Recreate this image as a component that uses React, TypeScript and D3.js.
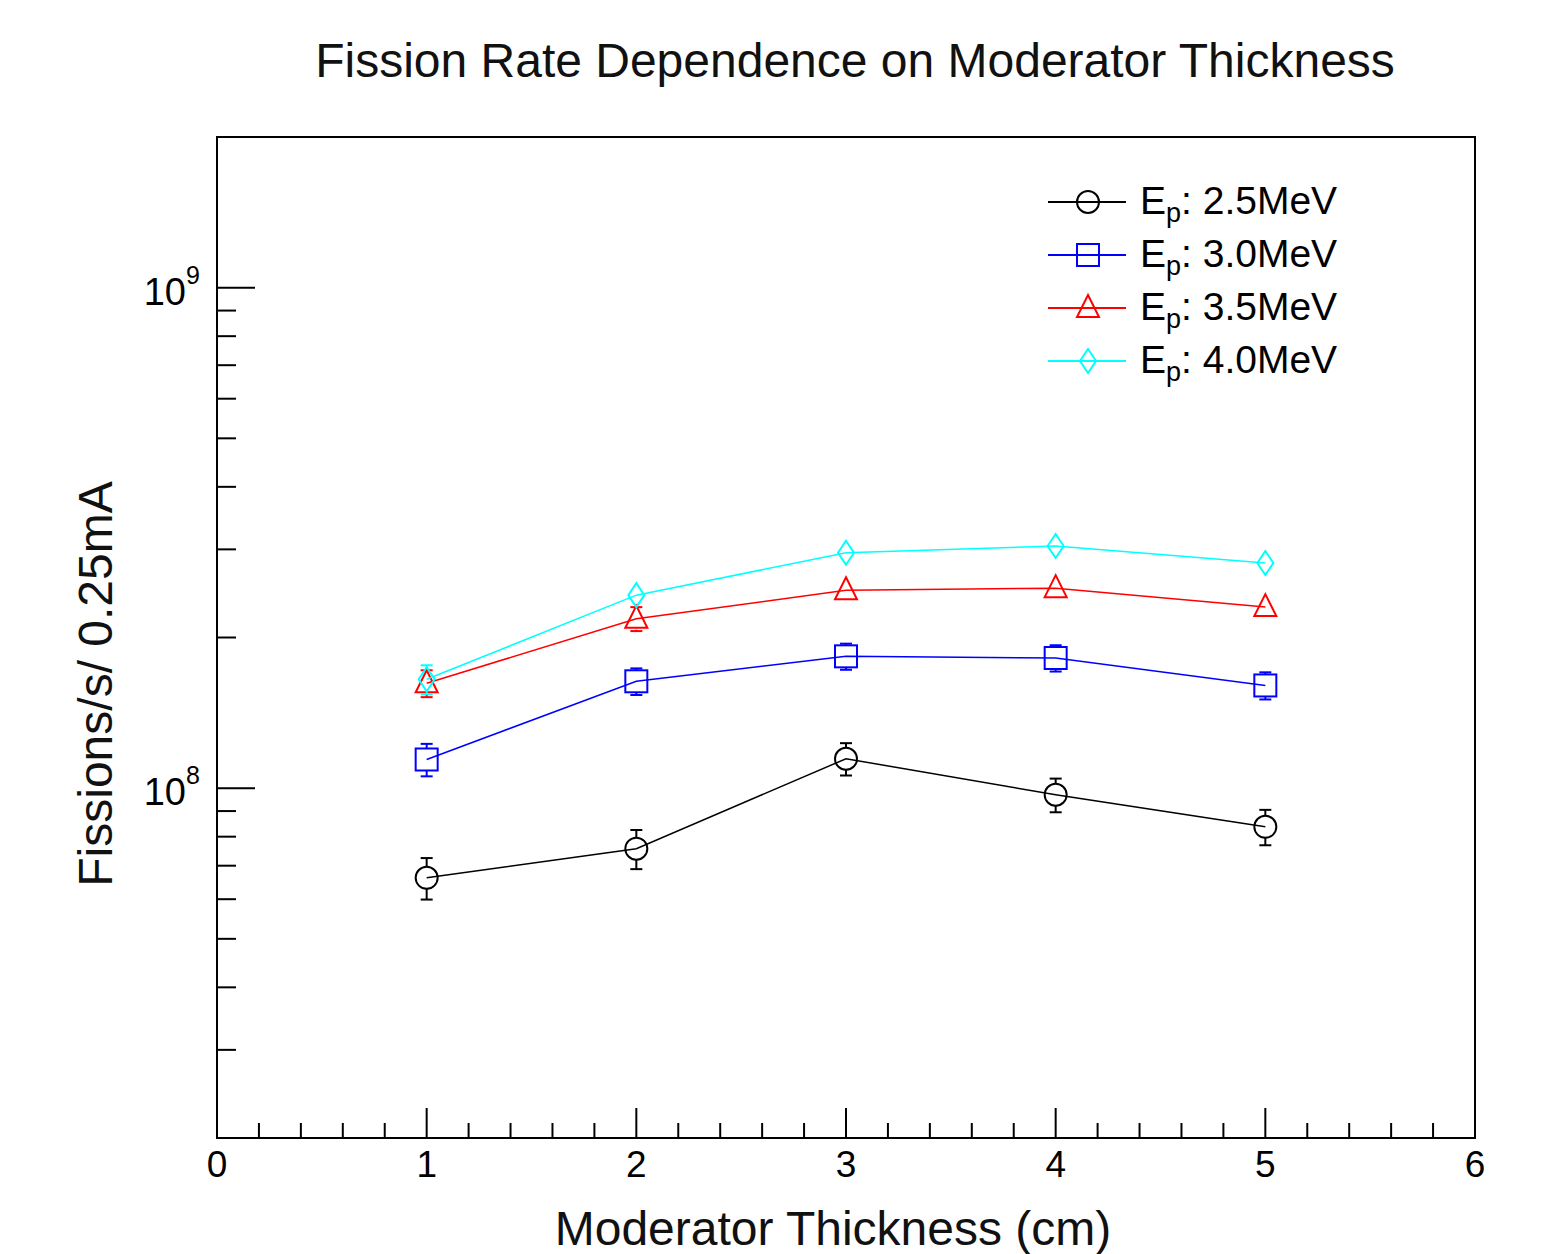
import React from "react";
import * as d3 from "d3";

const thickness = [1, 2, 3, 4, 5];
const seriesNames = ["2.5MeV", "3.0MeV", "3.5MeV", "4.0MeV"];
const ep25 = [6.62e7, 7.57e7, 1.145e8, 9.7e7, 8.37e7];
const ep25Err = [6.3e6, 6.8e6, 8.5e6, 7.5e6, 6.8e6];
const ep30 = [1.141e8, 1.635e8, 1.834e8, 1.82e8, 1.604e8];
const ep30Err = [8.5e6, 1.0e7, 1.1e7, 1.1e7, 1.0e7];
const ep35 = [1.62e8, 2.18e8, 2.485e8, 2.51e8, 2.3e8];
const ep35Err = [1.0e7, 1.2e7, 1.1e7, 1.1e7, 1.1e7];
const ep40 = [1.65e8, 2.43e8, 2.953e8, 3.046e8, 2.818e8];
const ep40Err = [1.1e7, 1.1e7, 1.3e7, 1.3e7, 1.2e7];
const xTickLabels = ["0", "1", "2", "3", "4", "5", "6"];

const colors = ["#000000", "#0000ff", "#ff0000", "#00ffff"];
const shapes = ["circle", "square", "triangle", "diamond"];

const W = 1556;
const H = 1254;
const left = 217, right = 1475, top = 137, bottom = 1138;
const FONT = "'Liberation Sans', Arial, Helvetica, sans-serif";

const x = d3.scaleLinear().domain([0, 6]).range([left, right]);
const y = d3.scaleLog().domain([2e7, 2e9]).range([bottom, top]);

function Marker({ shape, cx, cy, color }: { shape: string; cx: number; cy: number; color: string }) {
  const sw = 2;
  if (shape === "circle") return <circle cx={cx} cy={cy} r={11} fill="none" stroke={color} strokeWidth={sw} />;
  if (shape === "square") return <rect x={cx - 11} y={cy - 11} width={22} height={22} fill="none" stroke={color} strokeWidth={sw} />;
  if (shape === "triangle") {
    const p = `${cx},${cy - 13} ${cx + 11},${cy + 9} ${cx - 11},${cy + 9}`;
    return <polygon points={p} fill="none" stroke={color} strokeWidth={sw} />;
  }
  const p = `${cx},${cy - 12} ${cx + 8},${cy} ${cx},${cy + 12} ${cx - 8},${cy}`;
  return <polygon points={p} fill="none" stroke={color} strokeWidth={sw} />;
}

export default function App() {
  const series = [
    { vals: ep25, errs: ep25Err },
    { vals: ep30, errs: ep30Err },
    { vals: ep35, errs: ep35Err },
    { vals: ep40, errs: ep40Err },
  ];
  const line = d3.line<number>().x((_, i) => x(thickness[i])).y((v) => y(v));

  const minorY: number[] = [];
  for (const dec of [1e7, 1e8, 1e9]) {
    for (let k = 2; k <= 9; k++) {
      const v = k * dec;
      if (v >= 2e7 && v <= 2e9) minorY.push(v);
    }
  }
  const minorX: number[] = [];
  for (let i = 0; i <= 30; i++) if (i % 5 !== 0) minorX.push(i / 5);

  const half = 11;

  return (
    <svg width={W} height={H} style={{ position: "absolute", left: 0, top: 0, background: "#fff" }} fontFamily={FONT}>
      <rect x={0} y={0} width={W} height={H} fill="#fff" />
      <text x={855} y={77} fontSize={48} textAnchor="middle" fill="#111">
        Fission Rate Dependence on Moderator Thickness
      </text>
      <rect x={left} y={top} width={right - left} height={bottom - top} fill="none" stroke="#000" strokeWidth={2} />

      {/* y ticks */}
      {[1e8, 1e9].map((v) => (
        <g key={"ym" + v}>
          <line x1={left} x2={left + 38} y1={y(v)} y2={y(v)} stroke="#000" strokeWidth={2} />
          <text x={186} y={y(v) + 17} fontSize={38} textAnchor="end" fill="#000">10</text>
          <text x={186} y={y(v) - 4} fontSize={25} textAnchor="start" fill="#000">{Math.round(Math.log10(v))}</text>
        </g>
      ))}
      {minorY.map((v) => (
        <line key={"yn" + v} x1={left} x2={left + 19} y1={y(v)} y2={y(v)} stroke="#000" strokeWidth={2} />
      ))}

      {/* x ticks */}
      {xTickLabels.map((t, i) => (
        <g key={"xm" + t}>
          <line x1={x(i)} x2={x(i)} y1={bottom} y2={bottom - 30} stroke="#000" strokeWidth={2} />
          <text x={x(i)} y={1177} fontSize={37} textAnchor="middle" fill="#000">{t}</text>
        </g>
      ))}
      {minorX.map((v) => (
        <line key={"xn" + v} x1={x(v)} x2={x(v)} y1={bottom} y2={bottom - 15} stroke="#000" strokeWidth={2} />
      ))}

      <text x={833} y={1245} fontSize={48} textAnchor="middle" fill="#111">Moderator Thickness (cm)</text>
      <text transform={`translate(112,684) rotate(-90)`} fontSize={48} textAnchor="middle" fill="#111">
        Fissions/s/ 0.25mA
      </text>

      {/* data */}
      {series.map((s, si) => (
        <g key={"s" + si}>
          <path d={line(s.vals) || ""} fill="none" stroke={colors[si]} strokeWidth={1.5} />
          {s.vals.map((v, i) => {
            const cx = x(thickness[i]);
            const cy = y(v);
            const yt = y(v + s.errs[i]);
            const yb = y(v - s.errs[i]);
            return (
              <g key={i}>
                {cy - half > yt && (
                  <>
                    <line x1={cx} x2={cx} y1={yt} y2={cy - half} stroke={colors[si]} strokeWidth={2} />
                    <line x1={cx - 6} x2={cx + 6} y1={yt} y2={yt} stroke={colors[si]} strokeWidth={2} />
                  </>
                )}
                {yb > cy + half && (
                  <>
                    <line x1={cx} x2={cx} y1={cy + half} y2={yb} stroke={colors[si]} strokeWidth={2} />
                    <line x1={cx - 6} x2={cx + 6} y1={yb} y2={yb} stroke={colors[si]} strokeWidth={2} />
                  </>
                )}
                <Marker shape={shapes[si]} cx={cx} cy={cy} color={colors[si]} />
              </g>
            );
          })}
        </g>
      ))}

      {/* legend */}
      {seriesNames.map((n, i) => {
        const ly = 202 + i * 53;
        return (
          <g key={"l" + i}>
            <line x1={1048} x2={1126} y1={ly} y2={ly} stroke={colors[i]} strokeWidth={2} />
            <Marker shape={shapes[i]} cx={1088} cy={ly} color={colors[i]} />
            <text x={1140} y={ly + 12} fontSize={39} fill="#000">
              E<tspan fontSize={27} dy={8}>p</tspan>
              <tspan dy={-8}>: {n}</tspan>
            </text>
          </g>
        );
      })}
    </svg>
  );
}
